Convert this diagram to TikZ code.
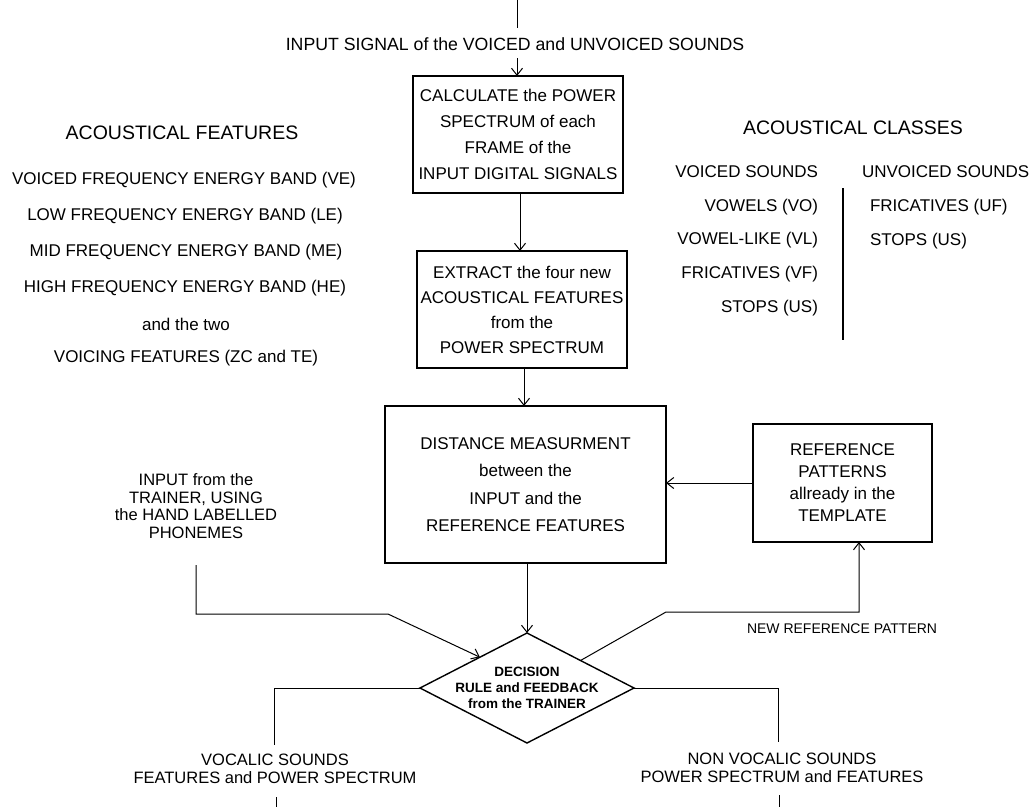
\documentclass[tikz,border=0pt]{standalone}
\usepackage{fontspec}
\setmainfont{Liberation Sans}
\usetikzlibrary{arrows.meta,shapes.geometric,calc}
\begin{document}
\begin{tikzpicture}[x=1pt,y=-1pt,
  every node/.style={inner sep=0pt,outer sep=0pt},
  txt/.style={font=\fontsize{17}{26}\selectfont,align=center},
  heading/.style={font=\fontsize{19.5}{24}\selectfont},
  stepbox/.style={draw,line width=1.4pt,align=center},
  link/.style={line width=1pt},
  arr/.style={line width=1pt,-{Straight Barb[length=7pt,width=11pt,line width=1pt]}},
  decbox/.style={draw,diamond,line width=1.4pt,minimum width=214,minimum height=110}]
\useasboundingbox (0,0) rectangle (1034,807);

% ---- main processing chain ----
\coordinate (top) at (517,0);
\node[txt,font=\fontsize{17.7}{26}\selectfont] (insig) at (515,44) {INPUT SIGNAL of the VOICED and UNVOICED SOUNDS};
\node[stepbox,minimum width=210,minimum height=117,font=\fontsize{17}{26}\selectfont] (box1) at (518,134.5)
  {CALCULATE the POWER\\SPECTRUM of each\\FRAME of the\\INPUT DIGITAL SIGNALS};
\node[stepbox,minimum width=210,minimum height=117,font=\fontsize{17}{25}\selectfont] (box2) at (522,309.5)
  {EXTRACT the four new\\ACOUSTICAL FEATURES\\from the\\POWER SPECTRUM};
\node[stepbox,minimum width=281,minimum height=157,font=\fontsize{17}{27.5}\selectfont] (box3) at (525.5,484.5)
  {DISTANCE MEASURMENT\\between the\\INPUT and the\\REFERENCE FEATURES};
\node[stepbox,minimum width=179,minimum height=118,font=\fontsize{17}{22}\selectfont] (refbox) at (842.5,483)
  {REFERENCE\\PATTERNS\\allready in the\\TEMPLATE};
\node[decbox] (dec) at (527,688) {};
\node[align=center,font=\bfseries\fontsize{13.5}{16}\selectfont] (dectext) at (dec.center) {DECISION\\RULE and FEEDBACK\\from the TRAINER};

\draw[link] (top) -- (top |- {(0,28)});
\draw[arr] (top |- {(0,58)}) -- (top |- box1.north);
\draw[arr] (box1.south -| {(520,0)}) -- (box2.north -| {(520,0)});
\draw[arr] (box2.south -| {(524,0)}) -- (box3.north -| {(524,0)});
\draw[arr] (box3.south -| dec.north) -- (dec.north);
\draw[arr] (refbox.west) -- (refbox.west -| box3.east);

% ---- trainer input ----
\node[txt,font=\fontsize{16.5}{17.5}\selectfont] (trainer) at (196,506)
  {INPUT from the\\TRAINER, USING\\the HAND LABELLED\\PHONEMES};
\coordinate (trainfoot) at (196,565);
\coordinate (trainbend) at (388,614);
\coordinate (ptL) at ($(dec.west)!0.56!(dec.north)$);
\draw[arr] (trainfoot) |- (trainbend) -- (ptL);

% ---- new reference pattern feedback ----
\coordinate (ptR) at ($(dec.north)!0.5!(dec.east)$);
\coordinate (nrbend) at (666,612);
\coordinate (nrcorner) at (859,612);
\draw[arr] (ptR) -- (nrbend) -- (nrcorner) -- (nrcorner |- refbox.south);
\node[txt,font=\fontsize{14}{18}\selectfont,anchor=west] (newref) at (747,629) {NEW REFERENCE PATTERN};

% ---- outputs ----
\coordinate (vocfoot) at (274,745);
\draw[link] (dec.west) -| (vocfoot);
\node[txt,font=\fontsize{16.5}{18}\selectfont] (vocal) at (275,769) {VOCALIC SOUNDS\\FEATURES and POWER SPECTRUM};
\coordinate (vocout) at (276,797);
\coordinate (vocend) at (276,807);
\draw[link] (vocout) -- (vocend);

\coordinate (nvfoot) at (778,742);
\draw[link] (dec.east) -| (nvfoot);
\node[txt,font=\fontsize{16.5}{18}\selectfont] (nonvocal) at (782,768) {NON VOCALIC SOUNDS\\POWER SPECTRUM and FEATURES};
\coordinate (nvout) at (779,795);
\coordinate (nvend) at (779,807);
\draw[link] (nvout) -- (nvend);

% ---- acoustical features list ----
\node[heading] (feathead) at (182,133) {ACOUSTICAL FEATURES};
\node[txt] (f1) at (184,180) {VOICED FREQUENCY ENERGY BAND (VE)};
\node[txt] (f2) at (185,216) {LOW FREQUENCY ENERGY BAND (LE)};
\node[txt] (f3) at (186,252) {MID FREQUENCY ENERGY BAND (ME)};
\node[txt] (f4) at (185,288) {HIGH FREQUENCY ENERGY BAND (HE)};
\node[txt] (f5) at (186,324) {and the two};
\node[txt] (f6) at (186,358) {VOICING FEATURES (ZC and TE)};

% ---- acoustical classes table ----
\node[heading] (clshead) at (853,128) {ACOUSTICAL CLASSES};
\node[txt,anchor=east] (vs) at (818,172) {VOICED SOUNDS};
\node[txt,anchor=east] (c1) at (818,207) {VOWELS (VO)};
\node[txt,anchor=east] (c2) at (818,240) {VOWEL-LIKE (VL)};
\node[txt,anchor=east] (c3) at (818,274) {FRICATIVES (VF)};
\node[txt,anchor=east] (c4) at (818,308) {STOPS (US)};
\node[txt,anchor=west] (us) at (862,172) {UNVOICED SOUNDS};
\node[txt,anchor=west] (u1) at (870,207) {FRICATIVES (UF)};
\node[txt,anchor=west] (u2) at (870,241) {STOPS (US)};
\coordinate (clstop) at (843,188);
\coordinate (clsbot) at (843,340);
\draw[line width=2pt] (clstop) -- (clsbot);
\end{tikzpicture}
\end{document}
